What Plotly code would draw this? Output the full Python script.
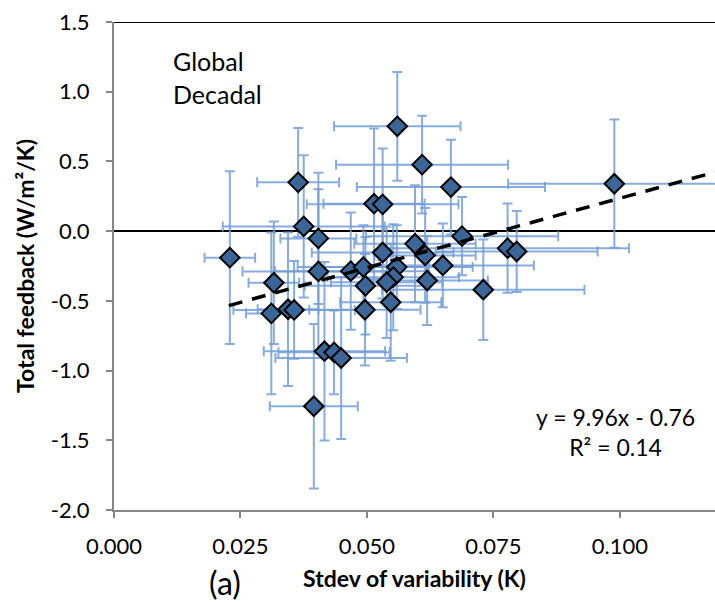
import plotly.graph_objects as go

# Data
stdev_x = [0.0229, 0.0316, 0.0311, 0.0344, 0.0356, 0.0364, 0.0375, 0.0404, 0.0404,
           0.0416, 0.0435, 0.0449, 0.0395, 0.0468, 0.0497, 0.0496, 0.0493, 0.0531,
           0.0514, 0.0531, 0.0560, 0.0609, 0.0666, 0.0989, 0.0688, 0.0778, 0.0796,
           0.0730, 0.0650, 0.0619, 0.0595, 0.0615, 0.0559, 0.0552, 0.0539, 0.0547]
feedback_y = [-0.19, -0.37, -0.59, -0.56, -0.565, 0.35, 0.034, -0.052, -0.289,
              -0.861, -0.869, -0.91, -1.256, -0.287, -0.392, -0.564, -0.258, -0.153,
              0.197, 0.192, 0.752, 0.477, 0.316, 0.340, -0.036, -0.122, -0.146,
              -0.420, -0.246, -0.354, -0.090, -0.174, -0.258, -0.330, -0.366, -0.510]
x_err = [0.0050, 0.0050, 0.0050, 0.0060, 0.0120, 0.0081, 0.0160, 0.0075, 0.0150,
         0.0120, 0.0110, 0.0130, 0.0087, 0.0150, 0.0120, 0.0110, 0.0130, 0.0140,
         0.0100, 0.0150, 0.0125, 0.0170, 0.0186, 0.0210, 0.0190, 0.0240, 0.0160,
         0.0200, 0.0180, 0.0120, 0.0120, 0.0100, 0.0150, 0.0130, 0.0110, 0.0100]
y_err = [0.62, 0.44, 0.58, 0.55, 0.35, 0.39, 0.51, 0.47, 0.59,
         0.64, 0.30, 0.58, 0.59, 0.42, 0.35, 0.40, 0.30, 0.33,
         0.54, 0.40, 0.39, 0.35, 0.34, 0.46, 0.28, 0.32, 0.29,
         0.36, 0.30, 0.32, 0.42, 0.34, 0.30, 0.38, 0.40, 0.42]

trend_slope = 9.96
trend_intercept = -0.76
trend_x = [0.0227, 0.1188]
trend_y = [trend_slope * v + trend_intercept for v in trend_x]

x_ticks = [0.000, 0.025, 0.050, 0.075, 0.100]
x_tick_labels = ["0.000", "0.025", "0.050", "0.075", "0.100"]
y_ticks = [1.5, 1.0, 0.5, 0.0, -0.5, -1.0, -1.5, -2.0]
y_tick_labels = ["1.5", "1.0", "0.5", "0.0", "-0.5", "-1.0", "-1.5", "-2.0"]

FONT = "Lato"
err_col = "rgba(115,158,214,0.85)"

fig = go.Figure()

fig.add_trace(go.Scatter(
    x=stdev_x, y=feedback_y, mode="markers",
    marker=dict(symbol="diamond", size=15, color="#3A6698",
                line=dict(color="black", width=2)),
    error_x=dict(type="data", array=x_err, color=err_col, thickness=2, width=5),
    error_y=dict(type="data", array=y_err, color=err_col, thickness=2, width=5),
    showlegend=False, cliponaxis=True,
))

fig.add_trace(go.Scatter(
    x=trend_x, y=trend_y, mode="lines",
    line=dict(color="black", width=3.5, dash="14px,10px"),
    showlegend=False, hoverinfo="skip",
))

gray = "#868686"
fig.update_layout(
    width=715, height=604,
    margin=dict(l=114, r=0, t=22, b=94),
    paper_bgcolor="white", plot_bgcolor="white",
    font=dict(family=FONT, color="black"),
    xaxis=dict(range=[0, 0.1188], tickvals=x_ticks, ticktext=x_tick_labels,
               showgrid=False, zeroline=False, showline=True, linecolor=gray,
               linewidth=2, ticks="outside", ticklen=6, tickcolor=gray, tickwidth=1.5,
               ticklabelstandoff=10,
               tickfont=dict(size=22, family=FONT),
               title=dict(text="<b>Stdev of variability (K)</b>",
                          font=dict(size=23, family=FONT), standoff=12)),
    yaxis=dict(range=[-2.0, 1.5], tickvals=y_ticks, ticktext=y_tick_labels,
               showgrid=False, zeroline=True, zerolinecolor="black", zerolinewidth=2,
               showline=True, linecolor=gray, linewidth=2,
               ticks="outside", ticklen=6, tickcolor=gray, tickwidth=1.5,
               ticklabelstandoff=12,
               tickfont=dict(size=22, family=FONT),
               title=dict(text="<b>Total feedback (W/m²/K)</b>",
                          font=dict(size=23, family=FONT), standoff=10)),
    shapes=[dict(type="line", xref="paper", yref="y", x0=0, x1=1, y0=1.5, y1=1.5,
                 line=dict(color="black", width=2))],
    annotations=[
        dict(text="Global<br>Decadal", xref="paper", yref="paper", x=0.095, y=0.955,
             xanchor="left", yanchor="top", align="left", showarrow=False,
             font=dict(size=25, family=FONT)),
        dict(text="y = 9.96x - 0.76<br>R² = 0.14", xref="paper", yref="paper",
             x=0.835, y=0.16, xanchor="center", yanchor="middle", align="center",
             showarrow=False, font=dict(size=23, family=FONT)),
        dict(text="(a)", xref="paper", yref="paper", x=0.155, y=-0.105,
             xanchor="left", yanchor="top", showarrow=False,
             font=dict(size=32, family=FONT)),
    ],
)

fig.write_html("out.html")
